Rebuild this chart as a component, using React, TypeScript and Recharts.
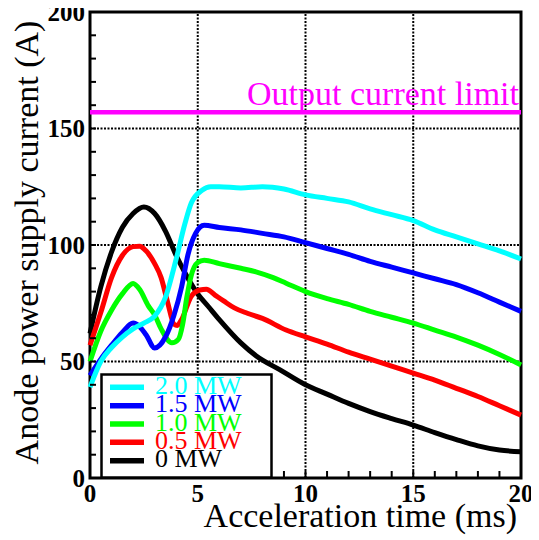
import React from 'react';
import { LineChart, Line, XAxis, YAxis, ReferenceLine, ReferenceArea, Legend, Label } from 'recharts';

const xTicks = [0, 1, 2, 3, 4, 5, 6, 7, 8, 9, 10, 11, 12, 13, 14, 15, 16, 17, 18, 19, 20];
const yTicks = [0, 10, 20, 30, 40, 50, 60, 70, 80, 90, 100, 110, 120, 130, 140, 150, 160, 170, 180, 190, 200];
const xMajor = [0, 5, 10, 15, 20];
const yMajor = [0, 50, 100, 150, 200];
const gridX = [5, 10, 15];
const gridY = [50, 100, 150];
const currentLimit = 157;
const limitText = 'Output current limit';
const xTitle = 'Acceleration time (ms)';
const yTitle = 'Anode power supply current (A)';

const mw20: [number, number][] = [
  [0, 39], [0.5, 50], [1, 56], [1.5, 60.5], [2, 64], [2.5, 66.5], [3, 69.5], [3.5, 77.5], [4, 94], [4.4, 109],
  [4.7, 118], [5.2, 123.5], [5.6, 125], [6, 125], [7, 124.5], [8, 125], [9, 124], [10, 121.5], [11, 120],
  [12, 118.5], [13, 115.5], [14, 113], [15, 110.5], [16, 106.5], [17, 103.5], [18, 100.5], [19, 97.5], [20, 94],
];
const mw15: [number, number][] = [
  [0, 44], [0.5, 51], [1, 57], [1.5, 62.5], [2, 66.5], [2.3, 65], [2.6, 61.5], [3, 55.8], [3.5, 60.5], [3.9, 70],
  [4.25, 82], [4.55, 96], [4.9, 105], [5.3, 108.5], [6, 107.5], [7, 106.5], [8, 105], [9, 103.5], [10, 101],
  [11, 98.5], [12, 96], [13, 93], [14, 90.5], [15, 88], [16, 85.5], [17, 83], [18, 79.5], [19, 75.5], [20, 71.5],
];
const mw10: [number, number][] = [
  [0, 50], [0.5, 63], [1, 72], [1.5, 79], [2, 83.5], [2.3, 81], [2.7, 74], [3, 70], [3.3, 64], [3.8, 58],
  [4.1, 59.5], [4.3, 66], [4.5, 78], [4.7, 87], [5, 92.5], [5.3, 93.5], [6, 92], [7, 90], [7.7, 88.5], [8.5, 86],
  [9.1, 83.6], [10, 80], [11, 77], [12, 74.5], [13, 71.5], [14, 69], [15, 66.5], [16, 63.5], [17, 60.5], [18, 57],
  [19, 53], [20, 48.5],
];
const mw05: [number, number][] = [
  [0, 57], [0.5, 71], [1, 86], [1.5, 95.5], [2, 99.3], [2.3, 99.5], [2.6, 97.5], [3, 92], [3.3, 86], [3.6, 75.5],
  [3.9, 66], [4.05, 65.5], [4.25, 68], [4.7, 78], [5.1, 80.7], [5.4, 81], [5.8, 78.5], [6.2, 76], [6.7, 73],
  [7.3, 70.7], [8, 68.5], [9.1, 63.5], [10, 60.6], [11, 57.5], [12, 54], [13, 51], [14, 48], [15, 45], [16, 42],
  [17, 38.5], [18, 35], [19, 31], [20, 27],
];
const mw00: [number, number][] = [
  [0, 62], [0.5, 82], [1, 97], [1.5, 107.5], [2, 113.5], [2.5, 116.3], [3, 113.5], [3.5, 106], [4, 95.5],
  [4.5, 86.5], [5, 79], [5.5, 73.5], [6, 68], [7, 58], [7.7, 52.5], [8.8, 46.5], [10, 40], [11, 36], [12, 32],
  [13, 28.5], [14, 25.5], [15, 22.7], [16, 19.5], [17, 16.5], [18, 13.8], [19, 12], [20, 11.3],
];

const toRows = (pts: [number, number][]) => pts.map(([x, y]) => ({ x, y }));

// drawn bottom to top
const series = [
  { name: '0 MW', color: '#000000', pts: mw00 },
  { name: '0.5 MW', color: '#ff0000', pts: mw05 },
  { name: '1.0 MW', color: '#00ff00', pts: mw10 },
  { name: '1.5 MW', color: '#0000ff', pts: mw15 },
  { name: '2.0 MW', color: '#00ffff', pts: mw20 },
];
const legendOrder = ['2.0 MW', '1.5 MW', '1.0 MW', '0.5 MW', '0 MW'];

const FONT = "'Liberation Serif', 'Times New Roman', serif";

const XTick = (props: any) => {
  const { x, y, payload } = props;
  const v = payload.value;
  return (
    <g>
      <line x1={x} y1={y} x2={x} y2={y - 7} stroke="#000" strokeWidth={2} />
      {xMajor.includes(v) && (
        <text x={x} y={y + 24} textAnchor="middle" fontFamily={FONT} fontWeight="bold" fontSize={25} fill="#000">
          {v}
        </text>
      )}
    </g>
  );
};

const YTick = (props: any) => {
  const { x, y, payload } = props;
  const v = payload.value;
  return (
    <g>
      <line x1={x} y1={y} x2={x + 6} y2={y} stroke="#000" strokeWidth={2} />
      {yMajor.includes(v) && (
        <text x={x - 5} y={y + 8.5} textAnchor="end" fontFamily={FONT} fontWeight="bold" fontSize={25} fill="#000">
          {v}
        </text>
      )}
    </g>
  );
};

const XTitle = (props: any) => {
  const vb = props.viewBox || { x: 90, y: 478, width: 431, height: 62 };
  return (
    <text x={vb.x + vb.width - 4} y={vb.y + 49} textAnchor="end" fontFamily={FONT} fontSize={34} fill="#000">
      {xTitle}
    </text>
  );
};

const YTitle = (props: any) => {
  const vb = props.viewBox || { x: 0, y: 12, width: 90, height: 466 };
  const cx = vb.x + 38;
  const cy = vb.y + vb.height / 2 - 2.5;
  return (
    <text
      x={0}
      y={0}
      transform={`translate(${cx}, ${cy}) rotate(-90)`}
      textAnchor="middle"
      fontFamily={FONT}
      fontSize={34}
      fill="#000"
    >
      {yTitle}
    </text>
  );
};

const LimitLabel = (props: any) => {
  const vb = props.viewBox || { x: 90, y: 112, width: 431, height: 0 };
  return (
    <text x={vb.x + vb.width - 2} y={vb.y - 7} textAnchor="end" fontFamily={FONT} fontSize={34} fill="#ff00ff">
      {limitText}
    </text>
  );
};

const LegendBox = () => {
  const items = legendOrder.map((n) => series.find((s) => s.name === n)!);
  return (
    <svg width={173} height={106} style={{ display: 'block', overflow: 'visible' }}>
      <rect x={1.5} y={1.5} width={170} height={103} fill="#fff" stroke="#000" strokeWidth={2.5} />
      {items.map((s, i) => {
        const cy = 14.3 + i * 18.35;
        return (
          <g key={s.name}>
            <line x1={10} y1={cy} x2={44} y2={cy} stroke={s.color} strokeWidth={5.5} />
            <text x={55} y={cy + 6.7} fontFamily={FONT} fontSize={26} fill={s.color}>
              {s.name}
            </text>
          </g>
        );
      })}
    </svg>
  );
};

export default function App() {
  return (
    <div style={{ marginTop: -8, marginLeft: -8, width: 539, height: 540 }}>
      <LineChart width={539} height={540} margin={{ top: 12, right: 18, bottom: 0, left: 0 }}>
        <XAxis
          dataKey="x"
          type="number"
          domain={[0, 20]}
          ticks={xTicks}
          interval={0}
          axisLine={false}
          tickLine={false}
          tickSize={0}
          tickMargin={0}
          height={62}
          tick={XTick}
          allowDuplicatedCategory={false}
        >
          <Label content={XTitle} />
        </XAxis>
        <YAxis
          type="number"
          domain={[0, 200]}
          ticks={yTicks}
          interval={0}
          axisLine={false}
          tickLine={false}
          tickSize={0}
          tickMargin={0}
          width={90}
          tick={YTick}
        >
          <Label content={YTitle} />
        </YAxis>
        {gridX.map((v) => (
          <ReferenceLine key={'gx' + v} x={v} stroke="#000" strokeWidth={2} strokeDasharray="2 1.5" />
        ))}
        {gridY.map((v) => (
          <ReferenceLine key={'gy' + v} y={v} stroke="#000" strokeWidth={2} strokeDasharray="2 1.5" />
        ))}
        <ReferenceLine y={currentLimit} stroke="#ff00ff" strokeWidth={4.5} label={LimitLabel} />
        {series.map((s) => (
          <Line
            key={s.name}
            data={toRows(s.pts)}
            dataKey="y"
            name={s.name}
            type="monotone"
            stroke={s.color}
            strokeWidth={5}
            dot={false}
            isAnimationActive={false}
          />
        ))}
        <ReferenceArea x1={0} x2={20} y1={0} y2={200} fill="none" stroke="#000" strokeWidth={3} />
        <Legend
          layout="vertical"
          align="center"
          verticalAlign="middle"
          wrapperStyle={{ left: 100, top: 373, width: 173, height: 106 }}
          content={LegendBox}
        />
      </LineChart>
    </div>
  );
}
